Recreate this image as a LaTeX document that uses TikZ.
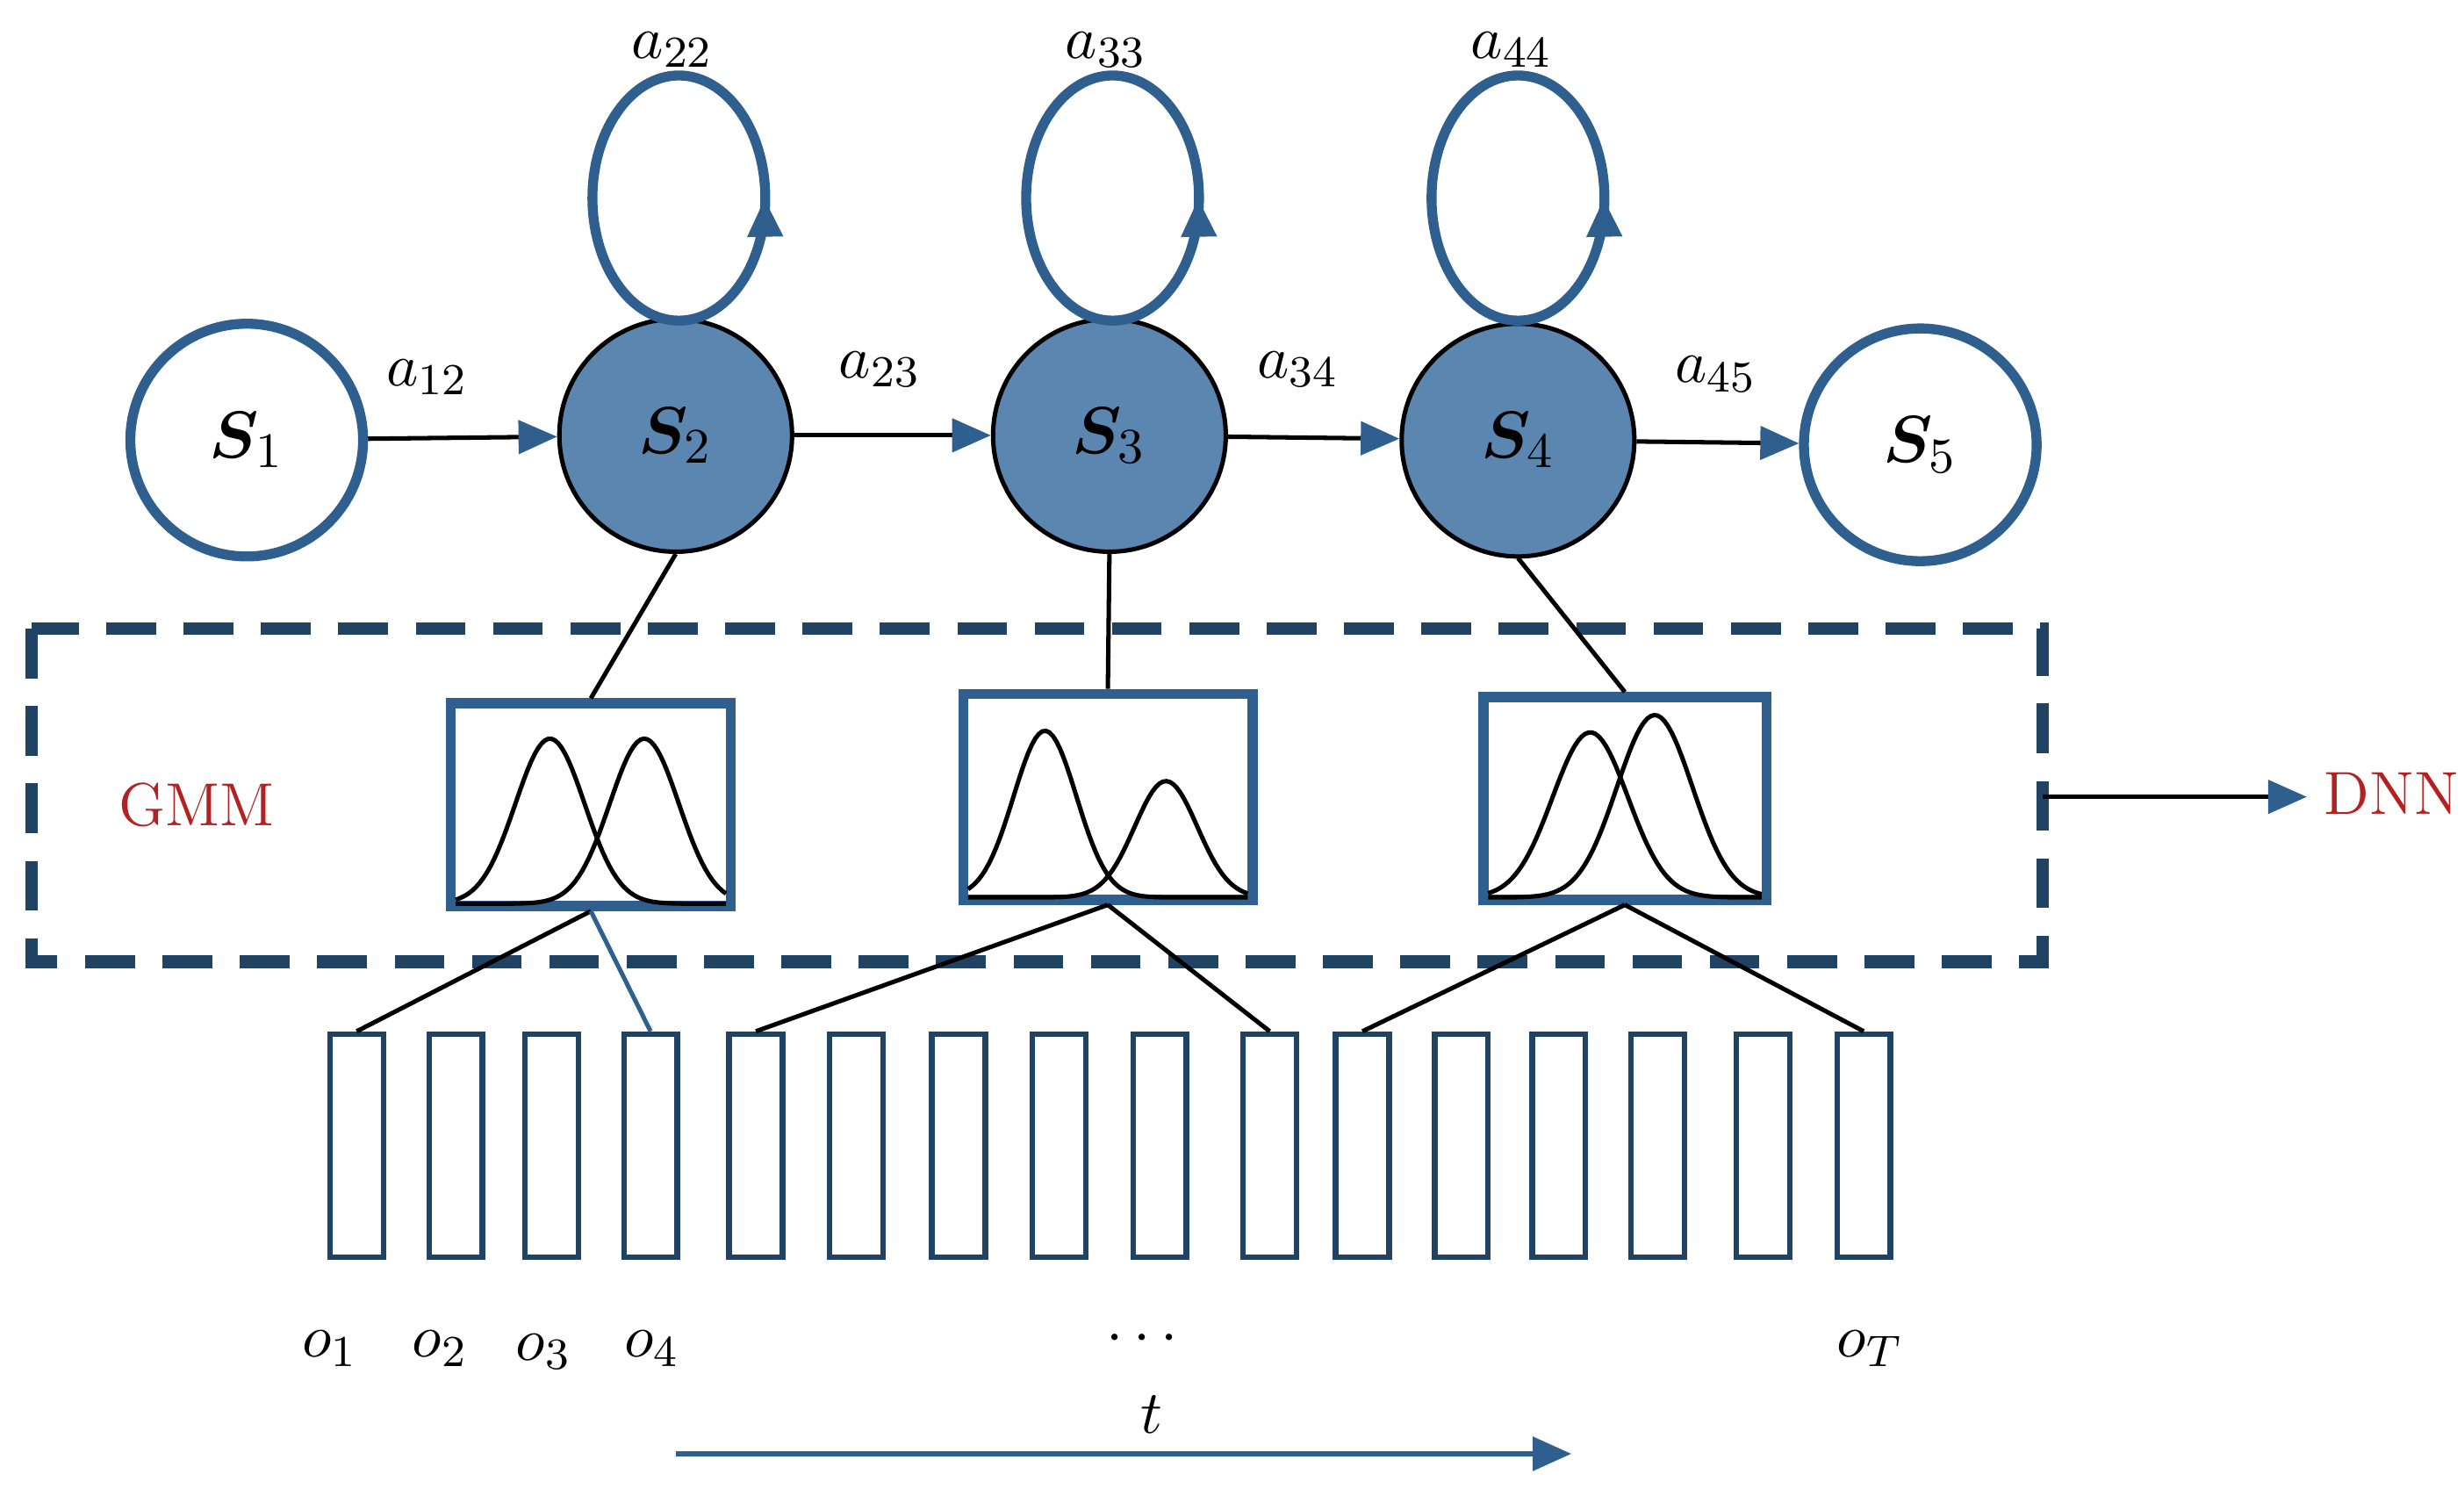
\documentclass[tikz,border=0pt]{standalone}
\usepackage{amsmath,bm}
\usetikzlibrary{arrows.meta}
\definecolor{bl}{HTML}{2E5F8E}
\definecolor{fl}{HTML}{5A86B0}
\definecolor{rd}{HTML}{B22222}
\begin{document}
\begin{tikzpicture}[x=0.01cm,y=-0.01cm,
  tip/.style={-{Triangle[length=7pt,width=6pt,fill=bl,color=bl]}},
  st/.style={circle,minimum size=1.48cm,inner sep=0pt,font=\fontsize{13}{14}\selectfont},
  hollow/.style={st,draw=bl,line width=1.8pt,fill=white},
  full/.style={st,draw=black,line width=0.8pt,fill=fl},
  lab/.style={font=\fontsize{11}{12}\selectfont},
  gbox/.style={draw=bl,line width=1.8pt},
  obs/.style={draw=bl!70!black,line width=1pt,minimum width=0.34cm,minimum height=1.42cm,inner sep=0pt}]
\useasboundingbox (0,0) rectangle (1568,956);
% states
\node[hollow] (s1) at (157,280) {$\bm{S}_1$};
\node[full] (s2) at (430,277) {$\bm{S}_2$};
\node[full] (s3) at (706,277) {$\bm{S}_3$};
\node[full] (s4) at (966,280) {$\bm{S}_4$};
\node[hollow] (s5) at (1222,283) {$\bm{S}_5$};
% self loops
\foreach \c/\x/\t in {s2/432/22,s3/708/33,s4/966/44}{
  \draw[bl,line width=1.8pt] (\x,126) ellipse [x radius=55,y radius=78];
  \draw[bl,line width=1.8pt,tip] (\x+54.8,142) -- (\x+54.5,126);
  \node[lab,anchor=north] (l\c) at (\x-4,8) {$a_{\t}$};
}
% transitions
\draw[line width=0.8pt,tip] (s1) -- (s2);
\draw[line width=0.8pt,tip] (s2) -- (s3);
\draw[line width=0.8pt,tip] (s3) -- (s4);
\draw[line width=0.8pt,tip] (s4) -- (s5);
\node[lab] at (272,240) {$a_{12}$};
\node[lab] at (560,235) {$a_{23}$};
\node[lab] at (826,235) {$a_{34}$};
\node[lab] at (1092,238) {$a_{45}$};
% dashed GMM box
\draw[bl!70!black,line width=2.3pt,dash pattern=on 9pt off 5pt] (20,400) rectangle (1300,612);
\node[rd,font=\fontsize{11}{12}\selectfont] at (125,512) {GMM};
\coordinate (dr) at (1300,507);
\coordinate (dn) at (1468,507);
\draw[line width=0.8pt,tip] (dr) -- (dn);
\node[rd,font=\fontsize{11}{12}\selectfont] at (1522,505) {DNN};
% GMM boxes
\node[gbox,minimum width=1.78cm,minimum height=1.29cm,inner sep=0pt] (g1) at (376,512) {};
\node[gbox,minimum width=1.84cm,minimum height=1.31cm,inner sep=0pt] (g2) at (705,507) {};
\node[gbox,minimum width=1.80cm,minimum height=1.29cm,inner sep=0pt] (g3) at (1034,508) {};
\begin{scope}[line width=0.8pt]
\draw[domain=290:462,samples=80] plot (\x,{575-105*exp(-((\x-350)/22)^2/2)});
\draw[domain=290:462,samples=80] plot (\x,{575-105*exp(-((\x-410)/22)^2/2)});
\draw[domain=616:794,samples=80] plot (\x,{571-106*exp(-((\x-665)/20)^2/2)});
\draw[domain=616:794,samples=80] plot (\x,{571-74*exp(-((\x-742)/20)^2/2)});
\draw[domain=947:1121,samples=80] plot (\x,{571-105*exp(-((\x-1012)/24)^2/2)});
\draw[domain=947:1121,samples=80] plot (\x,{571-116*exp(-((\x-1053)/24)^2/2)});
\end{scope}
% state to box
\draw[line width=0.8pt] (s2.south) -- (g1.north);
\draw[line width=0.8pt] (s3.south) -- (g2.north);
\draw[line width=0.8pt] (s4) ++(0,75) coordinate (s4b) -- (g3.north);
% observations
\foreach \x [count=\i] in {227,290,351,414,481,545,610,674,738,808,867,930,992,1055,1122,1186}
  \node[obs] (o\i) at (\x,729) {};
\draw[line width=0.8pt] (g1.south) -- (o1.north);
\draw[bl,line width=0.8pt] (g1.south) -- (o4.north);
\draw[line width=0.8pt] (g2.south) -- (o5.north);
\draw[line width=0.8pt] (g2.south) -- (o10.north);
\draw[line width=0.8pt] (g3.south) -- (o11.north);
\draw[line width=0.8pt] (g3.south) -- (o16.north);
\node[lab] at (210,858) {$o_1$};
\node[lab] at (280,858) {$o_2$};
\node[lab] at (346,860) {$o_3$};
\node[lab] at (415,858) {$o_4$};
\node[lab] at (730,852) {$\cdots$};
\node[lab] at (1190,858) {$o_T$};
\node[lab] at (733,900) {$t$};
\coordinate (ta) at (430,925);
\coordinate (tb) at (1000,925);
\draw[bl,line width=1pt,tip] (ta) -- (tb);
\end{tikzpicture}
\end{document}
